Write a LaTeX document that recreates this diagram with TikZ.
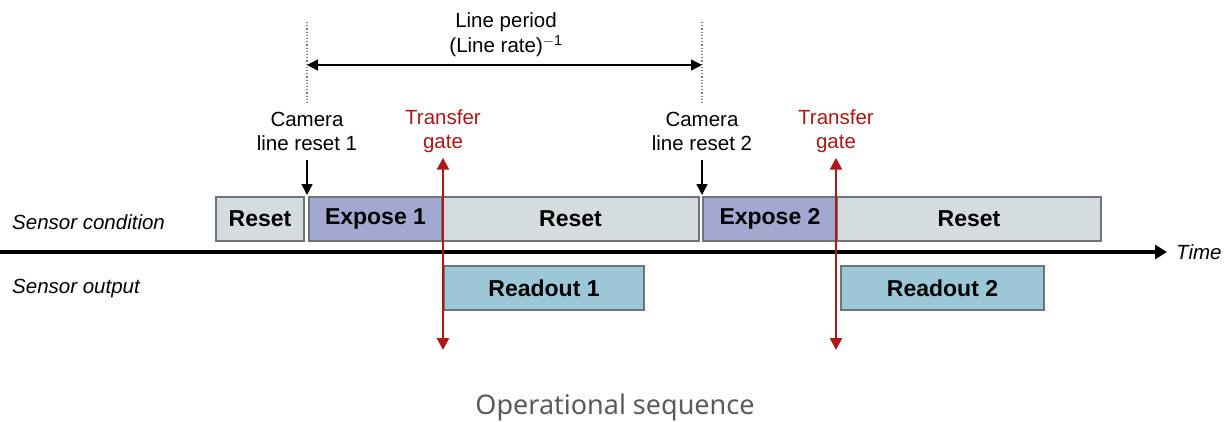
\documentclass[tikz,border=0pt]{standalone}
\usepackage{fontspec}
\setmainfont{Liberation Sans}
\newfontfamily\titlefont{Noto Sans}
\usetikzlibrary{arrows.meta}
\definecolor{resetfill}{RGB}{212,220,223}
\definecolor{exposefill}{RGB}{162,168,208}
\definecolor{readfill}{RGB}{156,199,214}
\definecolor{boxline}{RGB}{110,116,120}
\definecolor{gatered}{RGB}{175,22,22}
\definecolor{titlegray}{RGB}{90,90,90}
\tikzset{
  x=1pt, y=-1pt,
  phase/.style={draw=boxline, line width=1.4pt, minimum height=44pt, inner sep=0pt,
    font=\fontsize{23}{26}\selectfont\bfseries},
  resetbox/.style={phase, fill=resetfill},
  exposebox/.style={phase, fill=exposefill},
  readbox/.style={phase, fill=readfill},
  label/.style={font=\fontsize{20.5}{24}\selectfont, align=center, inner sep=0pt},
  rowlabel/.style={font=\fontsize{20.5}{24}\selectfont\itshape, inner sep=0pt, anchor=west},
  tip/.style={-{Triangle[length=11pt,width=11pt]}},
  gate/.style={gatered, line width=2.4pt, {Triangle[length=12pt,width=12pt]}-{Triangle[length=12pt,width=12pt]}},
}
\begin{document}
\begin{tikzpicture}
\useasboundingbox (0,0) rectangle (1227,421);

% row labels
\node[rowlabel] (cond) at (12,222) {Sensor condition};
\node[rowlabel] (outp) at (12,288) {Sensor output};

% sensor condition phases
\node[resetbox,  minimum width=88pt]  (r1) at (260,219)   {Reset};
\node[exposebox, minimum width=133pt] (e1) at (375.5,219) {Expose 1};
\node[resetbox,  minimum width=257pt] (r2) at (570.5,219) {Reset};
\node[exposebox, minimum width=134pt] (e2) at (770,219)   {Expose 2};
\node[resetbox,  minimum width=264pt] (r3) at (969,219)   {Reset};

% sensor output phases
\node[readbox, minimum width=200pt] (o1) at (544,288)   {Readout 1};
\node[readbox, minimum width=203pt] (o2) at (942.5,288) {Readout 2};

% time axis
\coordinate (t0) at (0,252);
\coordinate (t1) at (1167,252);
\node[font=\fontsize{20.5}{24}\selectfont\itshape, anchor=west, inner sep=0pt] (time) at (1176,252) {Time};
\draw[line width=4pt, -{Triangle[length=12pt,width=14pt]}] (t0) -- (t1);

% line period
\coordinate (p1a) at (307,22);  \coordinate (p1b) at (307,105);
\coordinate (p2a) at (702,22);  \coordinate (p2b) at (702,105);
\draw[gray, line width=1.2pt, dotted] (p1a) -- (p1b);
\draw[gray, line width=1.2pt, dotted] (p2a) -- (p2b);
\coordinate (pl) at (307,65); \coordinate (pr) at (702,65);
\draw[line width=1.3pt, {Triangle[length=11pt,width=11pt]}-{Triangle[length=11pt,width=11pt]}] (pl) -- (pr);
\node[label] (period) at (506,35) {Line period\\[1pt](Line rate)\textsuperscript{$-$1}};

% camera line resets
\node[label] (cam1) at (307,131) {Camera\\line reset 1};
\node[label] (cam2) at (702,131) {Camera\\line reset 2};
\coordinate (c1) at (307,195);
\coordinate (c2) at (702,195);
\draw[line width=1.6pt, tip] ([yshift=-10pt]cam1.south) -- (c1);
\draw[line width=1.6pt, tip] ([yshift=-10pt]cam2.south) -- (c2);

% transfer gates
\node[label, text=gatered] (tg1) at (443,131) {Transfer\\gate};
\node[label, text=gatered] (tg2) at (836,131) {Transfer\\gate};
\coordinate (g1) at (443,350);
\coordinate (g2) at (836,350);
\draw[gate] ([yshift=-5pt]tg1.south) -- (g1);
\draw[gate] ([yshift=-5pt]tg2.south) -- (g2);

% caption
\node[font=\fontsize{27}{30}\selectfont\titlefont, text=titlegray, inner sep=0pt] (title) at (615,407) {Operational sequence};
\end{tikzpicture}
\end{document}
